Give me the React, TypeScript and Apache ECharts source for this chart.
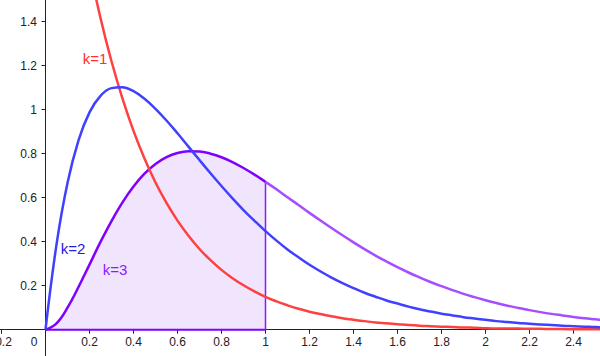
import React, { useEffect, useRef } from "react";
import * as echarts from "echarts";

// x positions (step 0.05)
const xs = [
  0, 0.05, 0.1, 0.15, 0.2, 0.25, 0.3, 0.35, 0.4, 0.45, 0.5, 0.55, 0.6, 0.65, 0.7, 0.75, 0.8, 0.85, 0.9, 0.95,
  1, 1.05, 1.1, 1.15, 1.2, 1.25, 1.3, 1.35, 1.4, 1.45, 1.5, 1.55, 1.6, 1.65, 1.7, 1.75, 1.8, 1.85, 1.9, 1.95,
  2, 2.05, 2.1, 2.15, 2.2, 2.25, 2.3, 2.35, 2.4, 2.45, 2.5, 2.55,
];

const k1 = [
  3.0, 2.582, 2.222, 1.913, 1.646, 1.417, 1.22, 1.05, 0.904, 0.778, 0.669, 0.576, 0.496, 0.427, 0.367, 0.316, 0.272, 0.234, 0.202, 0.174,
  0.149, 0.129, 0.111, 0.095, 0.082, 0.071, 0.061, 0.052, 0.045, 0.039, 0.033, 0.029, 0.025, 0.021, 0.018, 0.016, 0.014, 0.012, 0.01, 0.009,
  0.007, 0.006, 0.006, 0.005, 0.004, 0.004, 0.003, 0.003, 0.002, 0.002, 0.002, 0.001,
];

const k2 = [
  0, 0.387, 0.667, 0.861, 0.988, 1.063, 1.098, 1.102, 1.084, 1.05, 1.004, 0.951, 0.893, 0.832, 0.771, 0.711, 0.653, 0.597, 0.544, 0.495,
  0.448, 0.405, 0.365, 0.329, 0.295, 0.265, 0.237, 0.212, 0.189, 0.168, 0.15, 0.133, 0.119, 0.105, 0.093, 0.083, 0.073, 0.065, 0.057, 0.051,
  0.045, 0.039, 0.035, 0.031, 0.027, 0.024, 0.021, 0.018, 0.016, 0.014, 0.012, 0.011,
];

const k3 = [
  0, 0.029, 0.1, 0.194, 0.296, 0.399, 0.494, 0.579, 0.651, 0.709, 0.753, 0.784, 0.803, 0.811, 0.81, 0.8, 0.784, 0.762, 0.735, 0.705,
  0.672, 0.638, 0.602, 0.567, 0.531, 0.496, 0.462, 0.429, 0.397, 0.366, 0.337, 0.31, 0.284, 0.26, 0.238, 0.217, 0.198, 0.18, 0.163, 0.148,
  0.134, 0.121, 0.109, 0.099, 0.089, 0.08, 0.072, 0.065, 0.058, 0.052, 0.047, 0.042,
];

const xTicks = [-0.2, 0, 0.2, 0.4, 0.6, 0.8, 1, 1.2, 1.4, 1.6, 1.8, 2, 2.2, 2.4];
const yTicks = [0.2, 0.4, 0.6, 0.8, 1, 1.2, 1.4];

const shadeEnd = 1; // x where shading stops
const curveLabels = ["k=1", "k=2", "k=3"];

const pairs = (ys: number[]) => xs.map((x, i) => [x, ys[i]]);

export default function App() {
  const ref = useRef<HTMLDivElement>(null);
  useEffect(() => {
    if (!ref.current) return;
    const chart = echarts.init(ref.current, null, { renderer: "svg" });
    const all3 = pairs(k3);
    const idx = xs.indexOf(shadeEnd);
    const k3left = all3.slice(0, idx + 1);
    const k3right = all3.slice(idx);
    const yEnd = k3[idx];
    const font = "'Liberation Sans', Arial, sans-serif";
    chart.setOption({
      animation: false,
      grid: { left: 0, right: 0, top: 0, bottom: 0, containLabel: false, outerBoundsMode: "none" },
      xAxis: {
        type: "value",
        min: -0.2068,
        max: 2.5205,
        axisLine: { onZero: true, lineStyle: { color: "#222", width: 1 } },
        axisTick: { show: true, length: 4, customValues: xTicks, lineStyle: { color: "#222" } },
        splitLine: { show: false },
        axisLabel: {
          customValues: xTicks,
          showMinLabel: true,
          showMaxLabel: true,
          hideOverlap: false,
          margin: -20.5,
          color: "#222",
          fontSize: 12,
          fontFamily: font,
          verticalAlign: "top",
          formatter: (v: number) => {
            const r = Math.round(v * 10) / 10;
            if (r === 0) return "{o|0}";
            return String(r);
          },
          rich: { o: { padding: [0, 23, 0, 0], color: "#222", fontSize: 12, fontFamily: font } },
        },
      },
      yAxis: {
        type: "value",
        min: -0.1195,
        max: 1.4986,
        axisLine: { onZero: true, lineStyle: { color: "#222", width: 1 } },
        axisTick: { show: true, length: 4, customValues: yTicks, lineStyle: { color: "#222" } },
        splitLine: { show: false },
        axisLabel: {
          customValues: yTicks,
          showMinLabel: true,
          showMaxLabel: true,
          margin: -37,
          align: "right",
          color: "#222",
          fontSize: 12,
          fontFamily: font,
          formatter: (v: number) => String(Math.round(v * 10) / 10),
        },
      },
      series: [
        {
          name: "k3shade",
          type: "line",
          data: k3left,
          smooth: 0.4,
          symbol: "none",
          lineStyle: { color: "#7f00ff", width: 2.5 },
          areaStyle: { color: "#f1e5fd", opacity: 1 },
          z: 1,
        },
        {
          name: "k3base",
          type: "line",
          data: [[0, 0], [shadeEnd, 0]],
          symbol: "none",
          lineStyle: { color: "#7f00ff", width: 2 },
          z: 2,
        },
        {
          name: "k3vert",
          type: "line",
          data: [[shadeEnd, 0], [shadeEnd, yEnd]],
          symbol: "none",
          lineStyle: { color: "#8a1aff", width: 1.5 },
          z: 2,
        },
        {
          name: "k3right",
          type: "line",
          data: k3right,
          smooth: 0.4,
          symbol: "none",
          lineStyle: { color: "#a64dff", width: 2.5 },
          z: 3,
        },
        {
          name: "k1",
          type: "line",
          data: pairs(k1),
          smooth: 0.4,
          symbol: "none",
          lineStyle: { color: "#ff4040", width: 2.5 },
          z: 3,
        },
        {
          name: "k2",
          type: "line",
          data: pairs(k2),
          smooth: 0.4,
          symbol: "none",
          lineStyle: { color: "#4040ff", width: 2.5 },
          z: 4,
        },
      ],
      graphic: [
        { type: "text", z: 100, x: 95, y: 58, style: { text: curveLabels[0], fill: "#ff3030", font: `15px ${font}`, align: "center", verticalAlign: "middle" } },
        { type: "text", z: 100, x: 73, y: 248, style: { text: curveLabels[1], fill: "#2020e0", font: `15px ${font}`, align: "center", verticalAlign: "middle" } },
        { type: "text", z: 100, x: 115, y: 269, style: { text: curveLabels[2], fill: "#8c1aff", font: `15px ${font}`, align: "center", verticalAlign: "middle" } },
      ],
    });
    return () => chart.dispose();
  }, []);
  return (
    <div
      ref={ref}
      style={{ position: "fixed", left: 0, top: 0, width: 600, height: 356, background: "#fff" }}
    />
  );
}
